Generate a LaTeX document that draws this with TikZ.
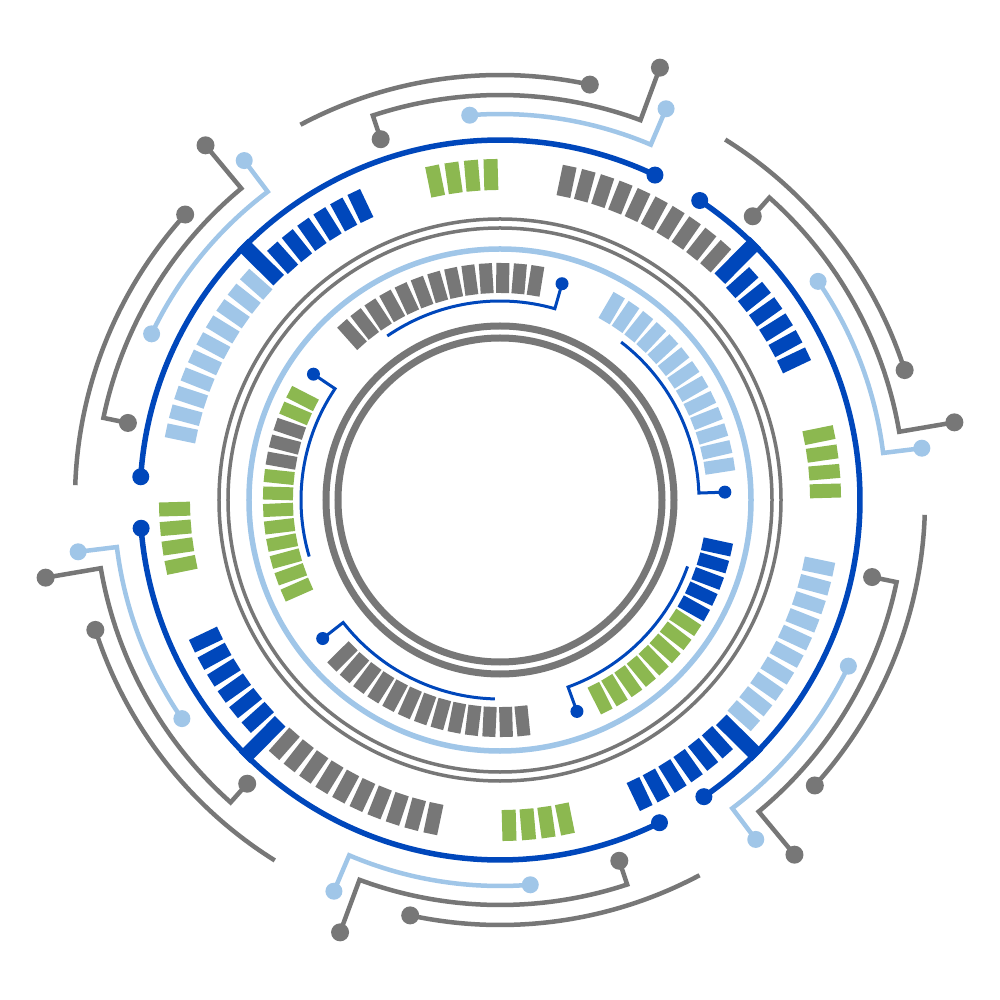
\documentclass[tikz,border=0pt]{standalone}
\definecolor{cgray}{RGB}{119,119,119}
\definecolor{cblue}{RGB}{0,71,187}
\definecolor{clblue}{RGB}{160,198,232}
\definecolor{cgreen}{RGB}{140,184,80}
\newcommand\radbar[5]{\fill[#1, rotate=#2] (#3,-#5/2) rectangle (#4,#5/2);}
\begin{document}
\begin{tikzpicture}[x=1pt,y=1pt,line cap=butt,
  graywire/.style={draw=cgray, line width=4.5pt},
  lbwire/.style={draw=clblue, line width=4.5pt},
  bigarc/.style={draw=cblue, line width=5.5pt},
  innerarc/.style={draw=cblue, line width=3pt},
  thickring/.style={draw=cgray, line width=7pt},
  thinring/.style={draw=cgray, line width=3.5pt},
  lbring/.style={draw=clblue, line width=5.5pt}]
\useasboundingbox (-500,-500) rectangle (500,500);
\fill[white] (-500,-500) rectangle (500,500);

% concentric rings
\draw[thickring] (0,0) circle (162);
\draw[thickring] (0,0) circle (174);
\draw[thinring] (0,0) circle (272);
\draw[thinring] (0,0) circle (281);
\draw[lbring] (0,0) circle (251);

% big blue arcs (3-fold)
\foreach \k in {0,1,2}{
  \pgfmathsetmacro\aa{64.5+120*\k}
  \pgfmathsetmacro\bb{\aa+111.8}
  \draw[bigarc] (\aa:360) arc[start angle=\aa, end angle=\bb, radius=360];
  \fill[cblue] (\aa:360) circle (8.5) (\bb:360) circle (8.5);
}

% middle bar ring (4-fold)
\foreach \q/\c in {0/cgray,90/clblue,180/cgray,270/clblue}{
  \foreach \j in {0,...,3}{\radbar{cgreen}{\q+1.6+3.3*\j}{310}{341}{14}}
  \foreach \j in {1,...,6}{\radbar{cblue}{\q+45.2-3.3*\j}{310}{341}{14}}
  \radbar{cblue}{\q+45.2}{312}{363}{15}
  \foreach \j in {1,...,10}{\radbar{\c}{\q+45.2+3.3*\j}{310}{341}{14}}
}

% inner bar ring (5 segments of 13 bars)
\foreach \j in {0,...,12}{\radbar{clblue}{8.8+4.25*\j}{207}{237}{13}}
\foreach \j in {0,...,12}{\radbar{cgray}{80.8+4.25*\j}{207}{237}{13}}
\foreach \j/\c in {0/cgreen,1/cgreen,2/cgray,3/cgray,4/cgray,5/cgreen,6/cgreen,7/cgreen,8/cgreen,9/cgreen,10/cgreen,11/cgreen,12/cgreen}{\radbar{\c}{152.8+4.25*\j}{207}{237}{13}}
\foreach \j in {0,...,12}{\radbar{cgray}{224.8+4.25*\j}{207}{237}{13}}
\foreach \j/\c in {0/cgreen,1/cgreen,2/cgreen,3/cgreen,4/cgreen,5/cgreen,6/cgreen,7/cgreen,8/cblue,9/cblue,10/cblue,11/cblue,12/cblue}{\radbar{\c}{296.8+4.25*\j}{207}{237}{13}}

% inner thin blue arcs (5-fold)
\foreach \k in {0,...,4}{
  \pgfmathsetmacro\aa{2+72*\k}
  \pgfmathsetmacro\bb{\aa+50.5}
  \draw[innerarc] (\aa:225) -- (\aa:199) arc[start angle=\aa, end angle=\bb, radius=199];
  \fill[cblue] (\aa:225) circle (6.5);
}

% outer circuit wires (6-fold)
\foreach \k in {0,...,5}{
  \pgfmathsetmacro\pa{60*\k+9.7}
  \pgfmathsetmacro\pb{60*\k+48.3}
  \draw[graywire] (\pa:461) -- (\pa:405) arc[start angle=\pa, end angle=\pb, radius=405] -- (\pb:380);
  \fill[cgray] (\pa:461) circle (9) (\pb:380) circle (9);
  \pgfmathsetmacro\la{60*\k+7}
  \pgfmathsetmacro\lb{60*\k+34.5}
  \draw[lbwire] (\la:425) -- (\la:386) arc[start angle=\la, end angle=\lb, radius=386];
  \fill[clblue] (\la:425) circle (8.5) (\lb:386) circle (8.5);
  \pgfmathsetmacro\ga{60*\k+17.8}
  \pgfmathsetmacro\gb{60*\k+58}
  \draw[graywire] (\ga:425) arc[start angle=\ga, end angle=\gb, radius=425];
  \fill[cgray] (\ga:425) circle (9);
}
\end{tikzpicture}
\end{document}
